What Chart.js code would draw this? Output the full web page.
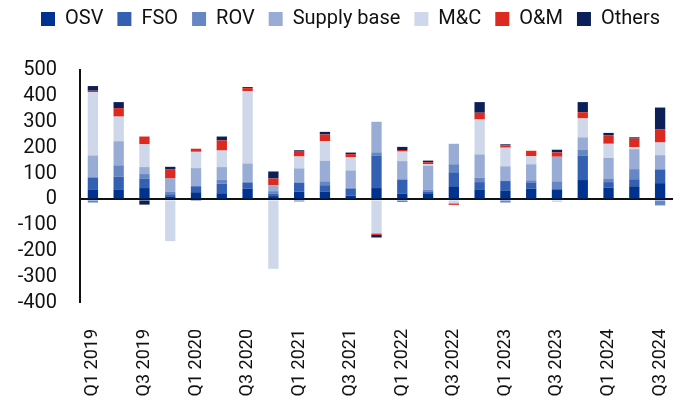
<!DOCTYPE html>
<html>
<head>
<meta charset="utf-8">
<script src="https://cdn.jsdelivr.net/npm/chart.js@4"></script>
<style>
html,body{margin:0;padding:0;background:#fff;}
#wrap{width:681px;height:402px;position:relative;}
</style>
</head>
<body>
<div id="wrap"><canvas id="c" width="681" height="402"></canvas></div>
<script>
const quarters = ["Q1 2019","Q2 2019","Q3 2019","Q4 2019","Q1 2020","Q2 2020","Q3 2020","Q4 2020","Q1 2021","Q2 2021","Q3 2021","Q4 2021","Q1 2022","Q2 2022","Q3 2022","Q4 2022","Q1 2023","Q2 2023","Q3 2023","Q4 2023","Q1 2024","Q2 2024","Q3 2024"];
const osv    = [39,39,44,12,28,24,42,13,30,31,15,44,23,21,51,39,35,42,39,75,46,51,63];
const fso    = [46,49,37,8,23,37,22,10,35,24,26,126,54,8,54,28,36,24,0,95,21,27,53];
const rov    = [-12,44,17,10,0,15,4,9,-8,15,4,12,-10,8,31,17,-12,8,31,21,14,39,-23];
const supply = [85,93,27,51,70,49,71,23,55,79,67,118,71,93,79,90,57,62,95,49,79,77,55];
const mc     = [245,95,88,-161,63,64,279,-268,46,76,51,-131,37,6,-15,135,72,31,-10,73,55,8,49];
const om     = [5,33,30,36,12,39,12,26,21,26,12,-6,6,8,-6,26,9,21,17,24,33,33,50];
const others = [18,23,-20,9,-5,15,4,27,3,10,6,-10,12,6,0,41,4,0,10,39,9,5,85];
const yTicks = [-400,-300,-200,-100,0,100,200,300,400,500];

const seriesNames = ["OSV","FSO","ROV","Supply base","M&C","O&M","Others"];
const seriesData = [osv,fso,rov,supply,mc,om,others];
const seriesColors = ["#00338f","#3360b2","#6687c4","#98acd5","#ced8ea","#dc2a20","#0b1f58"];

Chart.defaults.font.family = "Roboto";
Chart.defaults.color = "#111";

const legendGap = {
  id: "legendGap",
  beforeInit(chart){
    const orig = chart.legend.fit;
    chart.legend.fit = function(){ orig.call(this); this.height += 26; };
  },
  afterLayout(chart){
    chart.legend.top -= 5;
    chart.legend.left += 14; chart.legend.right += 14;
  }
};

new Chart(document.getElementById("c"), {
  type: "bar",
  data: {
    labels: quarters,
    datasets: seriesNames.map((n,i)=>({
      label: n,
      data: seriesData[i],
      backgroundColor: seriesColors[i],
      borderWidth: 0,
      categoryPercentage: 1,
      barPercentage: 0.4
    }))
  },
  plugins: [legendGap],
  options: {
    responsive: false,
    animation: false,
    layout: {padding: {left: 0, right: 8, top: 0, bottom: 0}},
    plugins: {
      legend: {
        position: "top",
        labels: {boxWidth: 14, boxHeight: 14, padding: 14, font: {size: 20}, color: "#111"}
      },
      tooltip: {enabled: false}
    },
    scales: {
      x: {
        stacked: true,
        grid: {display: false},
        border: {display: false},
        afterFit: function(s){ s.height = 99; s.paddingLeft = 0; s.paddingRight = 0; },
        ticks: {
          autoSkip: false, maxRotation: 90, minRotation: 90, padding: 18,
          font: {size: 18}, color: "#111",
          callback: function(v, i){ return i % 2 === 0 ? quarters[i] : ""; }
        }
      },
      y: {
        stacked: true,
        min: -400, max: 500,
        afterBuildTicks: function(s){ s.ticks = yTicks.map(v=>({value:v})); },
        afterFit: function(s){ s.width = 80; },
        grid: {
          drawTicks: false,
          color: (ctx)=> ctx.tick && ctx.tick.value === 0 ? "#111" : "rgba(0,0,0,0)",
          lineWidth: (ctx)=> ctx.tick && ctx.tick.value === 0 ? 2 : 0
        },
        border: {display: true, color: "#111", width: 2},
        ticks: {autoSkip: false, padding: 23, font: {size: 20}, color: "#111"}
      }
    }
  }
});
</script>
</body>
</html>
